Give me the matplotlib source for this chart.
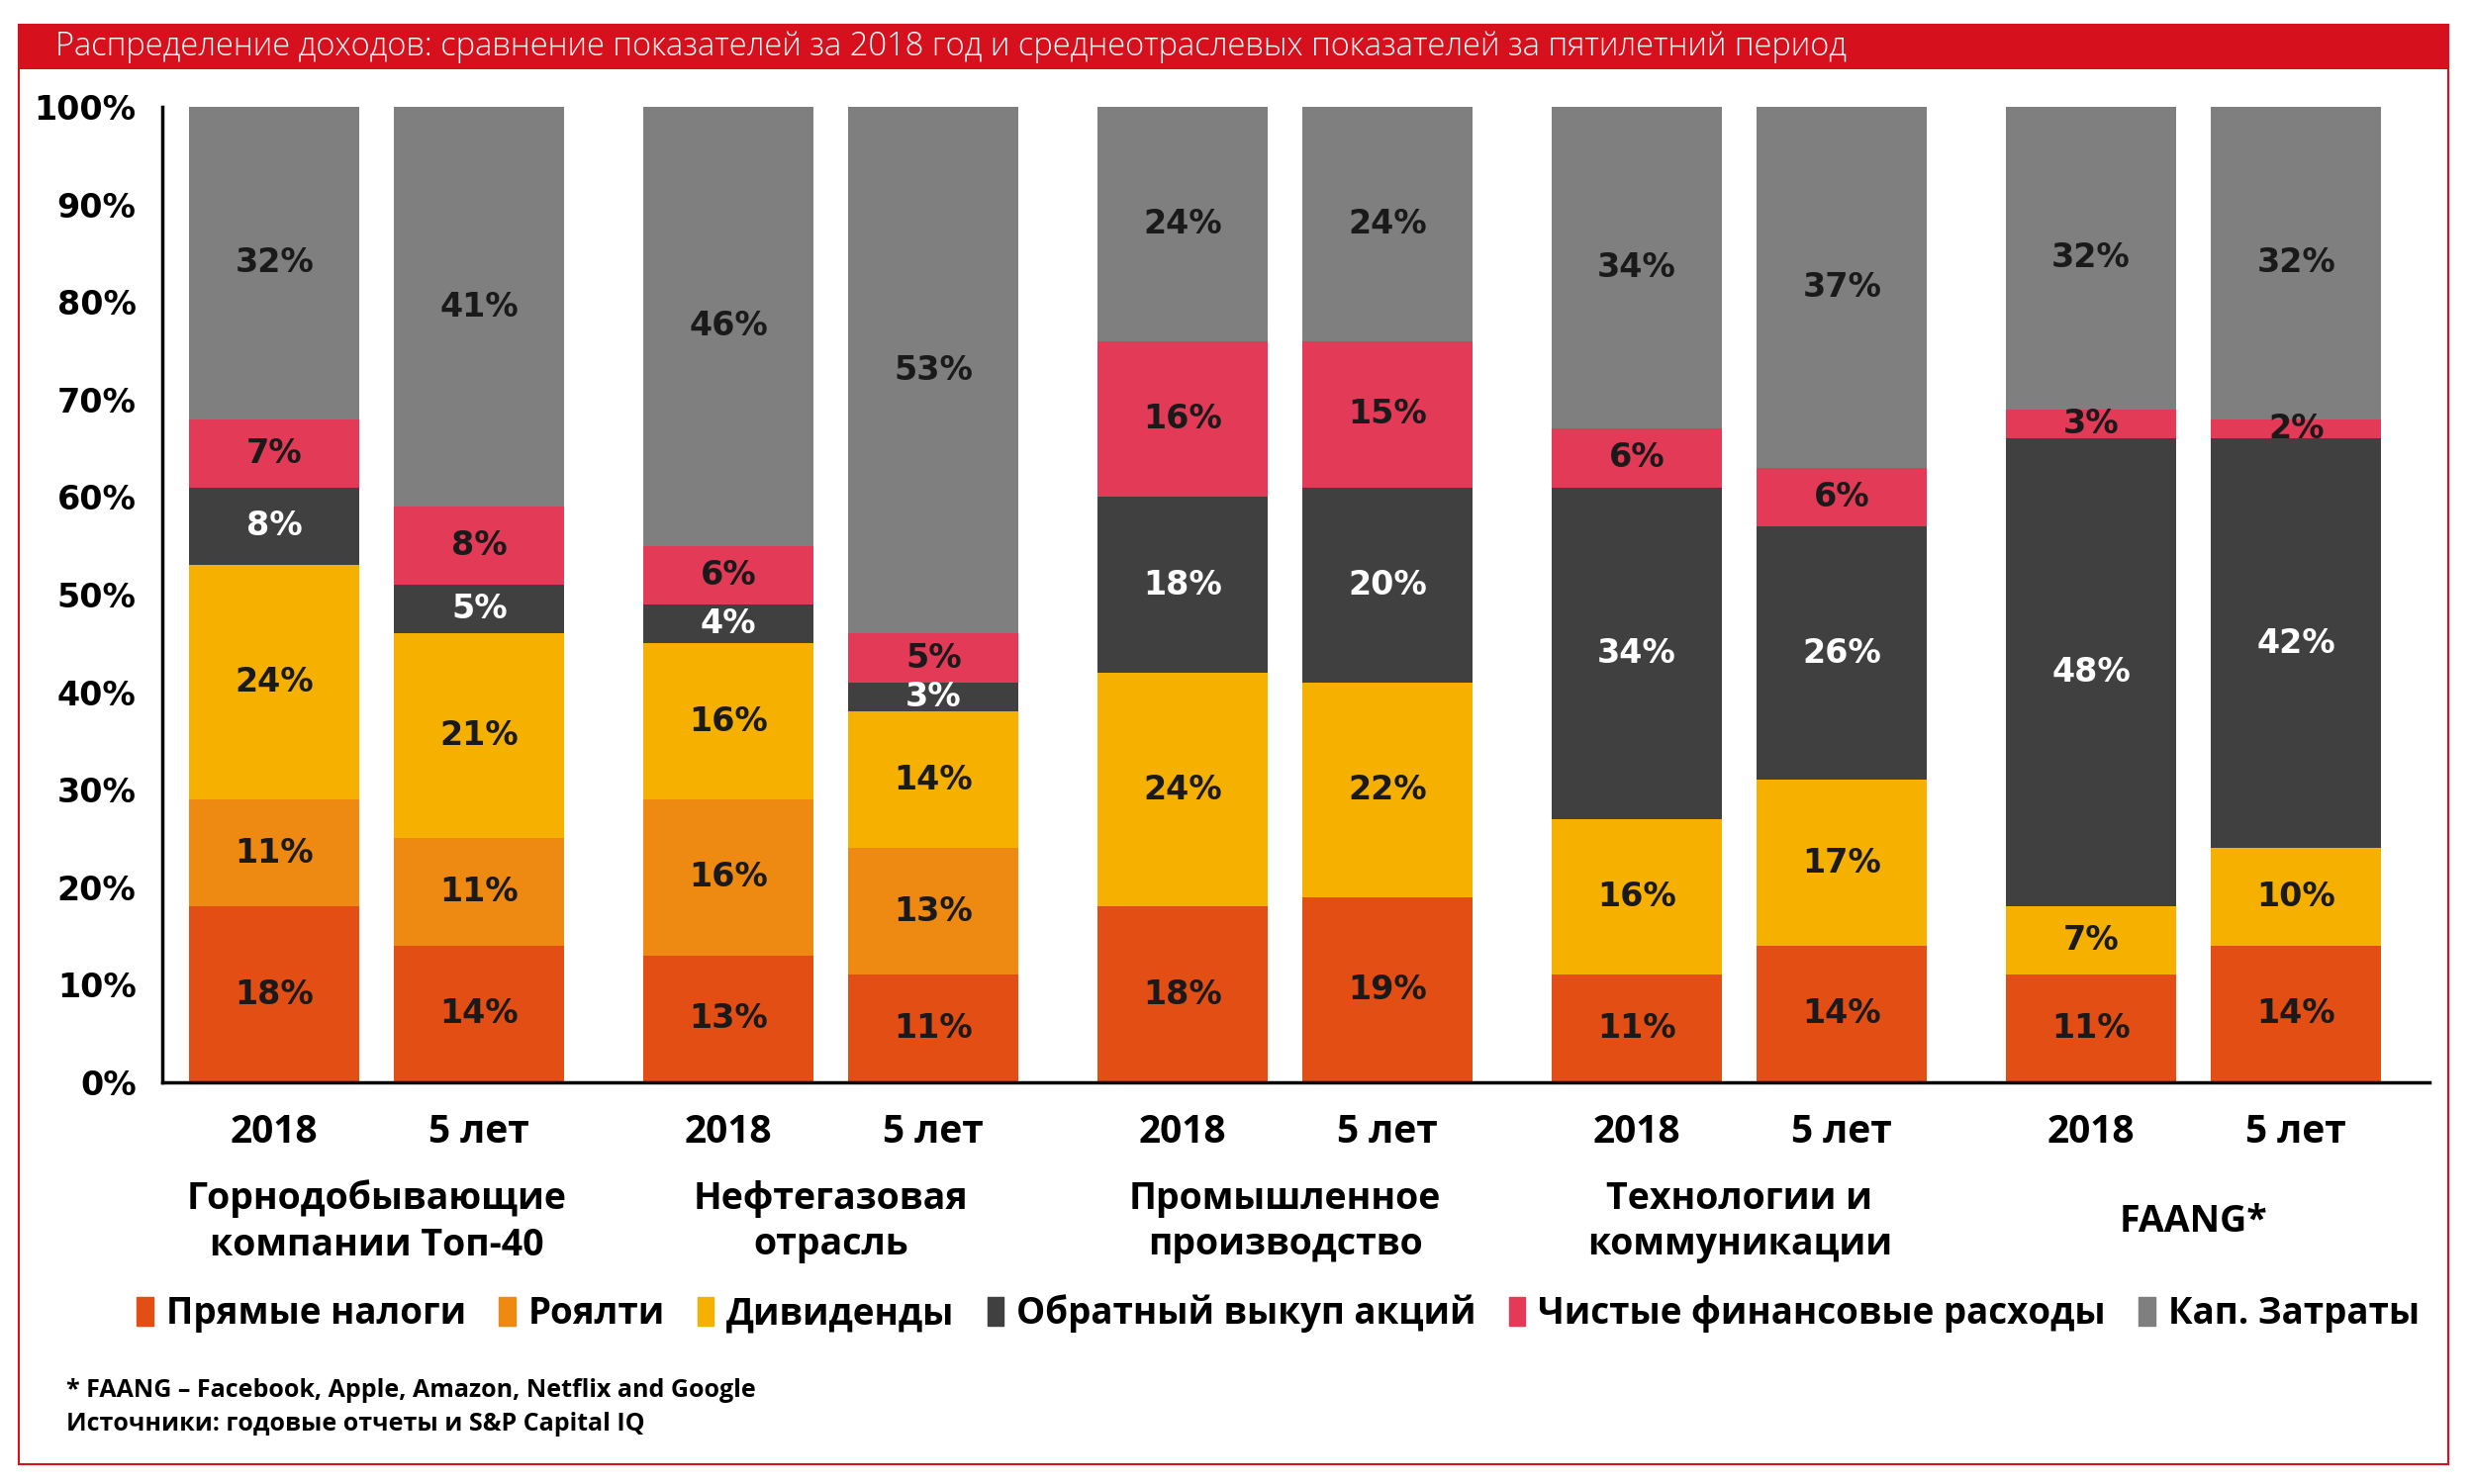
import numpy as np
import matplotlib.pyplot as plt
from matplotlib.patches import Rectangle

plt.rcParams['font.family'] = ['Open Sans', 'DejaVu Sans']

# --- data ---
groups = ['Горнодобывающие\nкомпании Топ-40', 'Нефтегазовая\nотрасль',
          'Промышленное\nпроизводство', 'Технологии и\nкоммуникации', 'FAANG*']
periods = ['2018', '5 лет']
series = ['Прямые налоги', 'Роялти', 'Дивиденды', 'Обратный выкуп акций',
          'Чистые финансовые расходы', 'Кап. Затраты']

# bars in order: group1 2018, group1 5 лет, group2 2018, ...
direct_tax = [18, 14, 13, 11, 18, 19, 11, 14, 11, 14]
royalty    = [11, 11, 16, 13, 0, 0, 0, 0, 0, 0]
dividends  = [24, 21, 16, 14, 24, 22, 16, 17, 7, 10]
buyback    = [8, 5, 4, 3, 18, 20, 34, 26, 48, 42]
net_fin    = [7, 8, 6, 5, 16, 15, 6, 6, 3, 2]
capex      = [32, 41, 46, 53, 24, 24, 34, 37, 32, 32]

colors = ['#E24E14', '#EE8A12', '#F6B100', '#404040', '#E33B57', '#7F7F7F']
label_colors = ['#1a1a1a', '#1a1a1a', '#1a1a1a', 'white', '#1a1a1a', '#1a1a1a']

values = [direct_tax, royalty, dividends, buyback, net_fin, capex]

fig = plt.figure(figsize=(25, 15), dpi=100)

# title bar and frame
fig.patches.append(Rectangle((0.0076, 0.0133), 0.9820, 0.9700, transform=fig.transFigure,
                             fill=False, edgecolor='#D7101E', linewidth=1.5))
fig.patches.append(Rectangle((0.0076, 0.9533), 0.9820, 0.0300, transform=fig.transFigure,
                             facecolor='#D7101E', edgecolor='none'))
fig.text(0.0224, 0.9683, 'Распределение доходов: сравнение показателей за 2018 год и '
         'среднеотраслевых показателей за пятилетний период',
         color='white', fontsize=23.5, fontweight='light', va='center', ha='left')

ax = fig.add_axes([0.0656, 0.2707, 0.9164, 0.6573])

step = 2.215
x = []
for g in range(len(groups)):
    x += [g * step, g * step + 1]
x = np.array(x)

bottom = np.zeros(len(x))
for i, (vals, c, lc) in enumerate(zip(values, colors, label_colors)):
    vals = np.array(vals, dtype=float)
    # last segment (кап. затраты) fills the bar up to 100%, labels keep the rounded value
    heights = 100 - bottom if i == len(values) - 1 else vals
    ax.bar(x, heights, width=0.83, bottom=bottom, color=c, edgecolor='none')
    for xi, b, h, v in zip(x, bottom, heights, vals):
        if v > 0:
            ax.text(xi, b + h / 2, f'{int(v)}%', ha='center', va='center',
                    color=lc, fontsize=24, fontweight='bold', family='DejaVu Sans')
    bottom += heights

ax.set_ylim(0, 100)
ax.set_xlim(-0.546, 10.51)
ax.set_yticks(np.arange(0, 101, 10))
ax.set_yticklabels([f'{v}%' for v in range(0, 101, 10)], fontsize=24,
                   fontweight='bold', family='DejaVu Sans')
ax.tick_params(axis='y', length=0, pad=19)
ax.set_xticks(x)
ax.set_xticklabels(periods * len(groups), fontsize=28, fontweight='bold')
ax.tick_params(axis='x', length=0, pad=22)
for s in ['top', 'right']:
    ax.spines[s].set_visible(False)
for s in ['left', 'bottom']:
    ax.spines[s].set_linewidth(2.5)
    ax.spines[s].set_color('black')

for g, name in enumerate(groups):
    ax.text(g * step + 0.5, -0.143, name, transform=ax.get_xaxis_transform(),
            ha='center', va='center', fontsize=27, fontweight='bold',
            linespacing=1.3)

handles = [Rectangle((0, 0), 1, 1, color=c) for c in colors]
fig.legend(handles, series, loc='center', bbox_to_anchor=(0.5166, 0.1147), ncol=6,
           frameon=False, prop={'weight': 'bold', 'size': 26.5},
           handlelength=0.45, handleheight=0.85, handletextpad=0.35, columnspacing=0.9)

fig.text(0.0268, 0.0627, '* FAANG – Facebook, Apple, Amazon, Netflix and Google',
         fontsize=18, fontweight='bold', va='center')
fig.text(0.0268, 0.0400, 'Источники: годовые отчеты и S&P Capital IQ',
         fontsize=18, fontweight='bold', va='center')

fig.savefig('out.png', dpi=100)
